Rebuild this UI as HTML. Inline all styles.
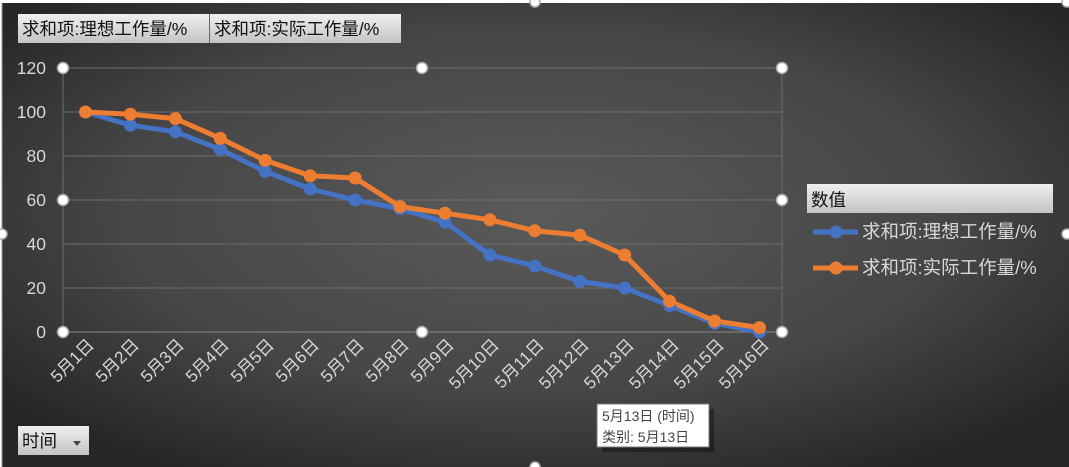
<!DOCTYPE html>
<html><head><meta charset="utf-8"><style>
html,body{margin:0;padding:0;background:#fff}
svg{display:block}
text{font-family:"Liberation Sans","Noto Sans CJK SC",sans-serif}
</style></head><body>
<svg width="1069" height="467" xmlns="http://www.w3.org/2000/svg">
<defs>
<radialGradient id="bg" cx="50%" cy="45%" r="65%">
<stop offset="0" stop-color="#5a5a5a"/><stop offset="0.6" stop-color="#464646"/><stop offset="1" stop-color="#262626"/>
</radialGradient>
<linearGradient id="btn" x1="0" y1="0" x2="0" y2="1"><stop offset="0" stop-color="#efefef"/><stop offset="1" stop-color="#c4c4c4"/></linearGradient>
</defs>
<rect x="0" y="0" width="1069" height="467" fill="#fff"/>
<rect x="2" y="3" width="1067" height="464" fill="url(#bg)"/>
<line x1="2" y1="3" x2="2" y2="467" stroke="#999"/>
<rect x="18" y="14" width="191" height="29" fill="url(#btn)"/>
<rect x="210" y="14" width="191" height="29" fill="url(#btn)"/>
<line x1="209.5" y1="14" x2="209.5" y2="43" stroke="#666"/>
<text x="22" y="35" font-size="17.5" fill="#111">求和项:理想工作量/%</text>
<text x="214" y="35" font-size="17.5" fill="#111">求和项:实际工作量/%</text>
<g stroke="#6e6e6e" stroke-width="1">
<line x1="63" y1="68" x2="782" y2="68"/><line x1="63" y1="112" x2="782" y2="112"/>
<line x1="63" y1="156" x2="782" y2="156"/><line x1="63" y1="200" x2="782" y2="200"/>
<line x1="63" y1="244" x2="782" y2="244"/><line x1="63" y1="288" x2="782" y2="288"/>
<line x1="63" y1="68" x2="63" y2="332"/><line x1="782" y1="68" x2="782" y2="332"/>
</g>
<line x1="63" y1="332" x2="782" y2="332" stroke="#888"/>
<g font-size="17.5" fill="#d8d8d8" text-anchor="end">
<text x="46" y="74">120</text><text x="46" y="118">100</text><text x="46" y="162">80</text>
<text x="46" y="206">60</text><text x="46" y="250">40</text><text x="46" y="294">20</text><text x="46" y="338">0</text>
</g>
<g stroke-linejoin="round" fill="none" stroke-width="5">
<polyline stroke="#4472c4" points="85.5,112 130.4,125.2 175.4,131.8 220.3,149.4 265.2,171.4 310.2,189 355.1,200 400,208.8 445,222 489.9,255 534.8,266 579.8,281.4 624.7,288 669.6,305.6 714.6,323.2 759.5,332"/>
<polyline stroke="#ed7d31" points="85.5,112 130.4,114.2 175.4,118.6 220.3,138.4 265.2,160.4 310.2,175.8 355.1,178 400,206.6 445,213.2 489.9,219.8 534.8,230.8 579.8,235.2 624.7,255 669.6,301.2 714.6,321 759.5,327.6"/>
</g>
<g fill="#4472c4">
<circle cx="130.4" cy="125.2" r="6.5"/><circle cx="175.4" cy="131.8" r="6.5"/><circle cx="220.3" cy="149.4" r="6.5"/><circle cx="265.2" cy="171.4" r="6.5"/><circle cx="310.2" cy="189" r="6.5"/><circle cx="355.1" cy="200" r="6.5"/><circle cx="400" cy="208.8" r="6.5"/><circle cx="445" cy="222" r="6.5"/><circle cx="489.9" cy="255" r="6.5"/><circle cx="534.8" cy="266" r="6.5"/><circle cx="579.8" cy="281.4" r="6.5"/><circle cx="624.7" cy="288" r="6.5"/><circle cx="669.6" cy="305.6" r="6.5"/><circle cx="714.6" cy="323.2" r="6.5"/><circle cx="759.5" cy="332" r="6.5"/>
</g>
<g fill="#ed7d31">
<circle cx="85.5" cy="112" r="6.5"/><circle cx="130.4" cy="114.2" r="6.5"/><circle cx="175.4" cy="118.6" r="6.5"/><circle cx="220.3" cy="138.4" r="6.5"/><circle cx="265.2" cy="160.4" r="6.5"/><circle cx="310.2" cy="175.8" r="6.5"/><circle cx="355.1" cy="178" r="6.5"/><circle cx="400" cy="206.6" r="6.5"/><circle cx="445" cy="213.2" r="6.5"/><circle cx="489.9" cy="219.8" r="6.5"/><circle cx="534.8" cy="230.8" r="6.5"/><circle cx="579.8" cy="235.2" r="6.5"/><circle cx="624.7" cy="255" r="6.5"/><circle cx="669.6" cy="301.2" r="6.5"/><circle cx="714.6" cy="321" r="6.5"/><circle cx="759.5" cy="327.6" r="6.5"/>
</g>
<g fill="#fff" stroke="#aaa" stroke-width="1.5">
<circle cx="63" cy="68" r="5.5"/><circle cx="422" cy="68" r="5.5"/><circle cx="782" cy="68" r="5.5"/>
<circle cx="63" cy="200" r="5.5"/><circle cx="782" cy="200" r="5.5"/>
<circle cx="63" cy="332" r="5.5"/><circle cx="422" cy="332" r="5.5"/><circle cx="782" cy="332" r="5.5"/>
<circle cx="535" cy="2" r="5"/><circle cx="1067" cy="2" r="5"/><circle cx="2" cy="234" r="5"/><circle cx="1067" cy="234" r="5"/><circle cx="535" cy="467" r="5"/>
</g>
<g font-size="17" fill="#d8d8d8" text-anchor="end">
<text transform="translate(95,346) rotate(-45)">5月1日</text>
<text transform="translate(140,346) rotate(-45)">5月2日</text>
<text transform="translate(185,346) rotate(-45)">5月3日</text>
<text transform="translate(230,346) rotate(-45)">5月4日</text>
<text transform="translate(275,346) rotate(-45)">5月5日</text>
<text transform="translate(320,346) rotate(-45)">5月6日</text>
<text transform="translate(365,346) rotate(-45)">5月7日</text>
<text transform="translate(410,346) rotate(-45)">5月8日</text>
<text transform="translate(455,346) rotate(-45)">5月9日</text>
<text transform="translate(500,346) rotate(-45)">5月10日</text>
<text transform="translate(545,346) rotate(-45)">5月11日</text>
<text transform="translate(590,346) rotate(-45)">5月12日</text>
<text transform="translate(635,346) rotate(-45)">5月13日</text>
<text transform="translate(680,346) rotate(-45)">5月14日</text>
<text transform="translate(725,346) rotate(-45)">5月15日</text>
<text transform="translate(770,346) rotate(-45)">5月16日</text>
</g>
<rect x="807" y="184" width="246" height="29" fill="url(#btn)"/>
<text x="811" y="206" font-size="17.5" fill="#111">数值</text>
<line x1="813" y1="232" x2="858" y2="232" stroke="#4472c4" stroke-width="5"/><circle cx="836" cy="232" r="6.5" fill="#4472c4"/>
<line x1="813" y1="268" x2="858" y2="268" stroke="#ed7d31" stroke-width="5"/><circle cx="836" cy="268" r="6.5" fill="#ed7d31"/>
<text x="862" y="238" font-size="18.5" fill="#d8d8d8">求和项:理想工作量/%</text>
<text x="862" y="274" font-size="18.5" fill="#d8d8d8">求和项:实际工作量/%</text>
<rect x="599" y="406" width="112" height="43" fill="#000" opacity="0.35" transform="translate(3,3)"/>
<rect x="597" y="404" width="112" height="43" fill="#fff" stroke="#777"/>
<text x="602" y="421" font-size="14" fill="#444">5月13日 (时间)</text>
<text x="602" y="442" font-size="14" fill="#444">类别: 5月13日</text>
<rect x="18" y="426" width="71" height="29" fill="url(#btn)"/>
<text x="22" y="447" font-size="17.5" fill="#111">时间</text>
<polygon points="73,441 81,441 77,446" fill="#444"/>
</svg>
</body></html>
